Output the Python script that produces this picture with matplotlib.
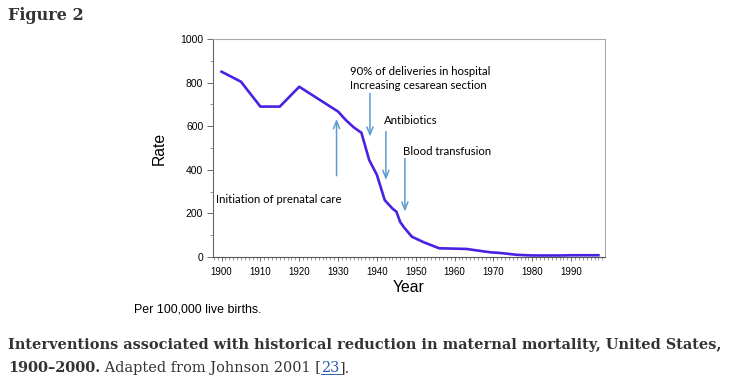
import matplotlib
matplotlib.use("Agg")
import matplotlib.pyplot as plt
from matplotlib.ticker import MultipleLocator

# maternal mortality per 100,000 live births
years = [1900, 1905, 1910, 1915, 1920, 1930, 1932, 1934, 1936, 1938, 1940,
         1942, 1944, 1945, 1946, 1947, 1949, 1952, 1956, 1963, 1969, 1972,
         1976, 1980, 1987, 1990, 1997]
rates = [850, 804, 690, 690, 781, 667, 628, 595, 570, 445, 376,
         261, 222, 208, 160, 135, 93, 68, 40, 37, 22, 18,
         10, 7, 7, 8, 8]

# interventions: (label lines, text x, text y, arrow x, arrow start, arrow end)
events = [
    ("Initiation of prenatal care", 1898.7, 266, 1929.6, 373, 633),
    ("90% of deliveries in hospital\nIncreasing cesarean section", 1933.1, 820, 1938.2, 751, 552),
    ("Antibiotics", 1941.9, 625, 1942.3, 575, 353),
    ("Blood transfusion", 1946.8, 486, 1947.2, 454, 208),
]

line_color = "#4a20e2"
arrow_color = "#5d9bd3"
text_color = "#333333"

fig = plt.figure(figsize=(7.36, 3.81), dpi=100)
ax = fig.add_axes([213 / 736, 1 - 257 / 381, 392 / 736, 218 / 381])

ax.plot(years, rates, color=line_color, lw=1.9, solid_joinstyle="round")

for label, tx, ty, axx, y0, y1 in events:
    ax.annotate("", xy=(axx, y1), xytext=(axx, y0),
                arrowprops=dict(arrowstyle="->,head_length=0.55,head_width=0.22",
                                color=arrow_color, lw=1.1, shrinkA=0, shrinkB=0))
    ax.text(tx, ty, label, fontsize=8.2, family="Lato", color="black",
            ha="left", va="center", linespacing=1.3,
            bbox=dict(facecolor="white", edgecolor="none", pad=1.0),
            zorder=5, clip_on=False)

ax.set_xlim(1897.8, 1998.7)
ax.set_ylim(0, 1000)
ax.xaxis.set_minor_locator(MultipleLocator(1))
ax.yaxis.set_major_locator(MultipleLocator(200))
ax.yaxis.set_minor_locator(MultipleLocator(100))
ax.set_xticks(range(1900, 1991, 10))
ax.tick_params(axis="x", which="major", length=3, width=0.6, color="#555555",
               labelsize=7, pad=4)
ax.tick_params(axis="x", which="minor", length=2.5, width=0.5, color="#777777")
ax.tick_params(axis="y", which="major", length=4.5, width=0.6, color="#555555",
               labelsize=7.5, pad=2.5)
ax.tick_params(axis="y", which="minor", length=2.5, width=0.5, color="#777777")
for lab in ax.get_xticklabels() + ax.get_yticklabels():
    lab.set_family("Liberation Sans")

ax.spines["left"].set_color("#666666")
ax.spines["bottom"].set_color("#555555")
ax.spines["top"].set_color("#aaaaaa")
ax.spines["right"].set_color("#aaaaaa")
for s in ax.spines.values():
    s.set_linewidth(0.8)

ax.set_xlabel("Year", fontsize=11.3, family="Liberation Sans", labelpad=2)
ax.set_ylabel("Rate", fontsize=11.3, family="Liberation Sans", labelpad=10)

fig.text(8 / 736, 1 - 15 / 381, "Figure 2", fontsize=11.5, family="DejaVu Serif",
         weight="bold", color=text_color, va="center")
fig.text(134 / 736, 1 - 310 / 381, "Per 100,000 live births.", fontsize=8.9,
         family="Liberation Sans", va="center")
fig.text(8 / 736, 1 - 345 / 381,
         "Interventions associated with historical reduction in maternal mortality, United States,",
         fontsize=10.45, family="DejaVu Serif", weight="bold", color=text_color, va="center")

# second caption line: bold years, then plain text, then blue reference
fig.canvas.draw()
renderer = fig.canvas.get_renderer()
x = 8 / 736
pieces = [("1900\u20132000.", "bold", text_color),
          (" Adapted from Johnson 2001 [", "normal", text_color),
          ("23", "normal", "#2a5db0"),
          ("].", "normal", text_color)]
for txt, weight, col in pieces:
    t = fig.text(x, 1 - 368 / 381, txt, fontsize=10.45, family="DejaVu Serif",
                 weight=weight, color=col, va="center")
    bb = t.get_window_extent(renderer)
    if txt == "23":
        y_ul = bb.y0 + 1
        fig.add_artist(plt.Line2D([bb.x0 / fig.bbox.width, bb.x1 / fig.bbox.width],
                                  [y_ul / fig.bbox.height] * 2, color=col, lw=0.7))
    x = bb.x1 / fig.bbox.width

fig.savefig("out.png", dpi=100)
